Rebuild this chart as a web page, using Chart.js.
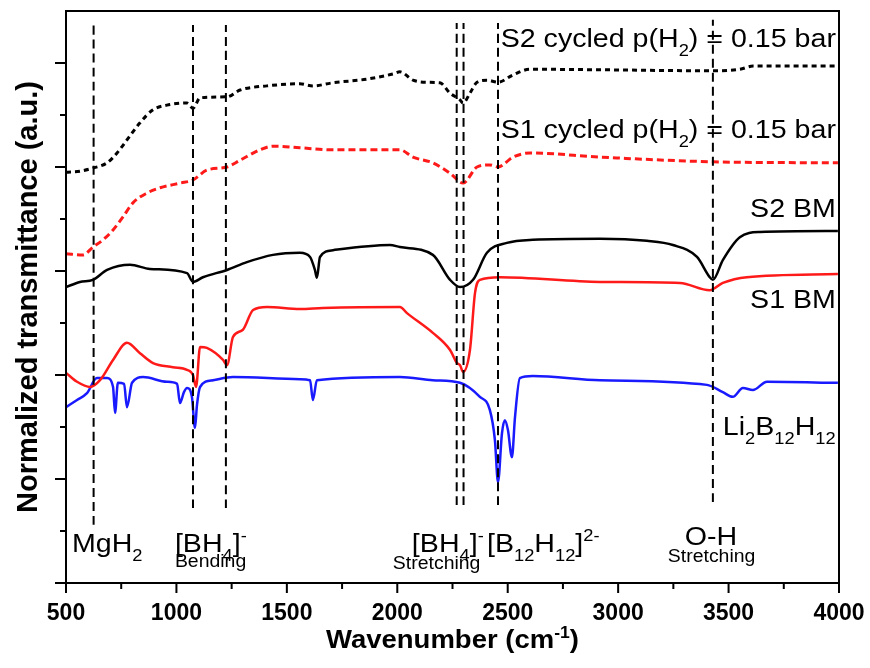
<!DOCTYPE html>
<html lang="en">
<head>
<meta charset="UTF-8">
<title>FTIR spectra</title>
<script src="https://cdn.jsdelivr.net/npm/chart.js"></script>
<style>
  body { margin: 0; background: #fff; }
</style>
</head>
<body>
<canvas id="ftir" width="870" height="668"></canvas>
<script>
// wavenumber (cm-1) / normalized transmittance (offset, a.u.)
var wnS2cyc = [500, 563, 622, 686, 731, 776, 835, 894, 957, 1048, 1075, 1107, 1229, 1288, 1410, 1559, 1618, 1709, 1863, 1981, 2012, 2071, 2135, 2193, 2239, 2284, 2298, 2329, 2361, 2406, 2456, 2524, 2601, 2918, 3429, 3551, 3611, 3995];
var trS2cyc = [7.90, 7.92, 7.98, 8.08, 8.27, 8.52, 8.85, 9.10, 9.19, 9.23, 9.13, 9.33, 9.35, 9.48, 9.56, 9.60, 9.56, 9.62, 9.69, 9.79, 9.83, 9.67, 9.63, 9.62, 9.42, 9.29, 9.23, 9.42, 9.63, 9.67, 9.63, 9.77, 9.88, 9.87, 9.85, 9.88, 9.94, 9.94];

var wnS1cyc = [500, 577, 622, 668, 713, 758, 803, 867, 926, 1016, 1075, 1138, 1229, 1288, 1378, 1437, 1559, 1709, 2012, 2071, 2161, 2239, 2298, 2361, 2419, 2456, 2524, 2601, 2918, 3429, 3995];
var trS1cyc = [6.33, 6.31, 6.46, 6.60, 6.79, 7.04, 7.31, 7.50, 7.60, 7.69, 7.75, 7.94, 8.00, 8.13, 8.33, 8.40, 8.37, 8.33, 8.33, 8.19, 8.08, 7.88, 7.69, 8.00, 8.04, 8.00, 8.19, 8.27, 8.19, 8.10, 8.08];

var wnS2bm = [500, 563, 622, 686, 790, 880, 1048, 1075, 1120, 1229, 1319, 1437, 1559, 1605, 1627, 1636, 1650, 1709, 1967, 2012, 2161, 2239, 2284, 2343, 2406, 2496, 2614, 2918, 3130, 3248, 3357, 3415, 3429, 3474, 3551, 3642, 3995];
var trS2bm = [5.69, 5.79, 5.83, 6.02, 6.12, 6.04, 5.96, 5.79, 5.88, 6.02, 6.17, 6.31, 6.35, 6.27, 6.02, 5.87, 6.27, 6.40, 6.50, 6.46, 6.31, 5.83, 5.69, 5.83, 6.35, 6.54, 6.60, 6.62, 6.58, 6.50, 6.27, 5.88, 5.83, 6.21, 6.65, 6.75, 6.77];

var wnS1bm = [500, 550, 609, 654, 713, 776, 835, 894, 984, 1048, 1075, 1089, 1107, 1138, 1211, 1229, 1256, 1301, 1347, 1410, 1559, 1663, 2012, 2044, 2161, 2239, 2270, 2284, 2298, 2329, 2352, 2374, 2465, 2918, 3280, 3415, 3474, 3583, 3995];
var trS1bm = [4.04, 3.87, 3.77, 3.90, 4.29, 4.62, 4.42, 4.23, 4.15, 4.10, 4.00, 3.77, 4.54, 4.52, 4.29, 4.19, 4.73, 4.87, 5.25, 5.31, 5.27, 5.29, 5.31, 5.19, 4.81, 4.48, 4.23, 4.19, 4.06, 4.48, 5.58, 5.83, 5.88, 5.79, 5.77, 5.63, 5.77, 5.88, 5.94];

var wnLi = [500, 550, 595, 640, 686, 713, 722, 735, 763, 776, 799, 849, 957, 1003, 1016, 1034, 1048, 1070, 1084, 1093, 1107, 1166, 1256, 1559, 1605, 1618, 1636, 2012, 2161, 2284, 2374, 2419, 2442, 2456, 2474, 2487, 2501, 2519, 2533, 2555, 2614, 2918, 3402, 3474, 3519, 3565, 3610, 3674, 3995];
var trLi = [3.38, 3.52, 3.65, 3.94, 3.94, 3.77, 3.27, 3.85, 3.83, 3.38, 3.85, 3.96, 3.87, 3.83, 3.46, 3.67, 3.75, 3.58, 2.98, 3.42, 3.77, 3.90, 3.96, 3.92, 3.90, 3.52, 3.90, 3.96, 3.90, 3.85, 3.58, 3.33, 2.75, 1.94, 2.88, 3.13, 2.94, 2.42, 3.19, 3.94, 3.98, 3.90, 3.81, 3.67, 3.58, 3.75, 3.71, 3.87, 3.85];

// assignment lines
var markWn = [625, 1075, 1224, 2269, 2300, 2456, 3429];
var markTop = [10.77, 10.73, 10.73, 10.77, 10.77, 10.77, 10.83];
var markBottom = [1.12, 1.44, 1.44, 1.50, 1.50, 1.50, 1.56];

var xTickValues = [500, 1000, 1500, 2000, 2500, 3000, 3500, 4000];
var xMinorValues = [750, 1250, 1750, 2250, 2750, 3250, 3750];
var yTickValues = [0, 1, 2, 3, 4, 5, 6, 7, 8, 9, 10];

var FONT = '"Liberation Sans", Arial, sans-serif';

function pts(xs, ys) {
    return xs.map(function(x, i) { return { x: x, y: ys[i] }; });
}

var datasets = [];
markWn.forEach(function(w, i) {
    datasets.push({
        data: [{ x: w, y: markBottom[i] }, { x: w, y: markTop[i] }],
        borderColor: '#000', borderWidth: 2, borderDash: [9, 5]
    });
});
datasets.push({ data: pts(wnS2cyc, trS2cyc), borderColor: '#000', borderWidth: 3, borderDash: [5, 4] });
datasets.push({ data: pts(wnS1cyc, trS1cyc), borderColor: '#ff1a1a', borderWidth: 3, borderDash: [7, 4] });
datasets.push({ data: pts(wnS2bm, trS2bm), borderColor: '#000', borderWidth: 2.5 });
datasets.push({ data: pts(wnS1bm, trS1bm), borderColor: '#ff1a1a', borderWidth: 2.5 });
datasets.push({ data: pts(wnLi, trLi), borderColor: '#1a1aff', borderWidth: 2.5 });

// text with sub/superscripts; sx stretches glyphs horizontally
function drawRich(ctx, parts, x, y, size, align, sx, weight) {
    var widths = [], total = 0;
    parts.forEach(function(p) {
        var fs = p[1] ? size * 0.64 : size;
        ctx.font = (weight || 'normal') + ' ' + fs + 'px ' + FONT;
        var w = ctx.measureText(p[0]).width * sx;
        widths.push(w); total += w;
    });
    var cx = align === 'right' ? x - total : (align === 'center' ? x - total / 2 : x);
    parts.forEach(function(p, i) {
        var fs = p[1] ? size * 0.64 : size;
        var dy = p[1] === 'sub' ? size * 0.36 : (p[1] === 'sup' ? -size * 0.42 : 0);
        ctx.font = (weight || 'normal') + ' ' + fs + 'px ' + FONT;
        ctx.save();
        ctx.translate(cx, y + dy);
        ctx.scale(sx, 1);
        ctx.fillText(p[0], 0, 0);
        ctx.restore();
        cx += widths[i];
    });
}

var labels = [
    { w: 3986, v: 10.31, align: 'right', size: 26, parts: [['S2 cycled p(H'], ['2', 'sub'], [') = 0.15 bar']] },
    { w: 3986, v: 8.56, align: 'right', size: 26, parts: [['S1 cycled p(H'], ['2', 'sub'], [') = 0.15 bar']] },
    { w: 3986, v: 7.04, align: 'right', size: 26, parts: [['S2 BM']] },
    { w: 3986, v: 5.29, align: 'right', size: 26, parts: [['S1 BM']] },
    { w: 3474, v: 2.85, align: 'left', size: 26, parts: [['Li'], ['2', 'sub'], ['B'], ['12', 'sub'], ['H'], ['12', 'sub']] },
    { w: 527, v: 0.60, align: 'left', size: 26, parts: [['MgH'], ['2', 'sub']] },
    { w: 993, v: 0.60, align: 'left', size: 26, parts: [['[BH'], ['4', 'sub'], [']'], ['-', 'sup']] },
    { w: 993, v: 0.31, align: 'left', size: 18, parts: [['Bending']] },
    { w: 2066, v: 0.60, align: 'left', size: 26, parts: [['[BH'], ['4', 'sub'], [']'], ['-', 'sup']] },
    { w: 1980, v: 0.27, align: 'left', size: 18, parts: [['Stretching']] },
    { w: 2406, v: 0.60, align: 'left', size: 26, parts: [['[B'], ['12', 'sub'], ['H'], ['12', 'sub'], [']'], ['2-', 'sup']] },
    { w: 3302, v: 0.73, align: 'left', size: 26, parts: [['O-H']] },
    { w: 3225, v: 0.40, align: 'left', size: 18, parts: [['Stretching']] }
];

var decorations = {
    id: 'decorations',
    afterDraw: function(chart) {
        var ctx = chart.ctx, a = chart.chartArea;
        var xs = chart.scales.x, ys = chart.scales.y;
        ctx.save();
        ctx.strokeStyle = '#000';
        ctx.lineWidth = 2;
        ctx.strokeRect(a.left, a.top, a.right - a.left, a.bottom - a.top);
        ctx.beginPath();
        xTickValues.forEach(function(v) {
            var px = xs.getPixelForValue(v);
            ctx.moveTo(px, a.bottom); ctx.lineTo(px, a.bottom + 10);
        });
        xMinorValues.forEach(function(v) {
            var px = xs.getPixelForValue(v);
            ctx.moveTo(px, a.bottom); ctx.lineTo(px, a.bottom + 6);
        });
        yTickValues.forEach(function(v) {
            var py = ys.getPixelForValue(v);
            ctx.moveTo(a.left, py); ctx.lineTo(a.left - (v % 2 === 0 ? 11 : 6), py);
        });
        ctx.stroke();

        ctx.fillStyle = '#000';
        ctx.textBaseline = 'alphabetic';
        labels.forEach(function(l) {
            var sx = l.size > 20 ? 1.1 : 1.08;
            drawRich(ctx, l.parts, xs.getPixelForValue(l.w), ys.getPixelForValue(l.v), l.size, l.align, sx);
        });
        drawRich(ctx, [['Wavenumber (cm'], ['-1', 'sup'], [')']], (a.left + a.right) / 2, 648, 25, 'center', 1.1, 'bold');
        ctx.restore();
    }
};

var ctx = document.getElementById('ftir').getContext('2d');
var ftirChart = new Chart(ctx, {
    type: 'line',
    data: { datasets: datasets },
    options: {
        responsive: false,
        animation: false,
        devicePixelRatio: 1,
        layout: { padding: { top: 11, right: 31, left: 0, bottom: 0 } },
        elements: {
            point: { radius: 0 },
            line: { tension: 0.3, cubicInterpolationMode: 'monotone', fill: false }
        },
        plugins: { legend: { display: false }, tooltip: { enabled: false } },
        scales: {
            x: {
                type: 'linear', min: 500, max: 4000,
                grid: { display: false },
                border: { display: true, color: '#000', width: 2 },
                afterBuildTicks: function(s) { s.ticks = xTickValues.map(function(v) { return { value: v }; }); },
                afterFit: function(s) { s.height = 85; s.paddingLeft = 0; s.paddingRight = 0; },
                ticks: {
                    color: '#000', padding: 9, maxRotation: 0,
                    font: { family: FONT, size: 23, weight: 'bold' },
                    callback: function(v) { return String(v); }
                }
            },
            y: {
                type: 'linear', min: 0, max: 11,
                grid: { display: false },
                border: { display: true, color: '#000', width: 2 },
                ticks: { display: false },
                afterFit: function(s) { s.width = 66; s.paddingTop = 0; s.paddingBottom = 0; },
                title: {
                    display: true, text: 'Normalized transmittance (a.u.)', color: '#000',
                    padding: { top: 12, bottom: 0 },
                    font: { family: FONT, size: 29, weight: 'bold' }
                }
            }
        }
    },
    plugins: [decorations]
});
</script>
</body>
</html>
